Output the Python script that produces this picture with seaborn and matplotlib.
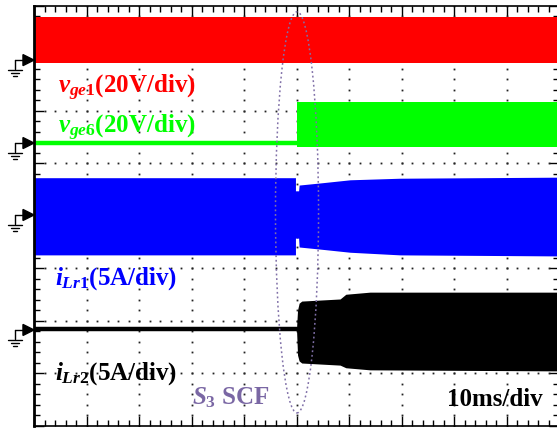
import numpy as np
import pandas as pd
import seaborn as sns
import matplotlib.pyplot as plt
from matplotlib.patches import Ellipse, Polygon

# all values in scope divisions: x 0..10 (10ms/div), y -4..4
# vge1 (red) - switching band over the whole record
red_x = [0.0, 10.0]
red_top = [3.78, 3.78]
red_bot = [2.90, 2.90]

# vge6 (green) - off before the fault, switching after
green_flat_x = [0.0, 5.01]
green_flat_y = [1.38, 1.38]
green_x = [5.01, 10.0]
green_top = [2.16, 2.16]
green_bot = [1.30, 1.30]

# iLr1 (blue) envelope
blue_x = [0.0, 4.98, 4.98, 5.04, 5.05, 5.45, 6.02, 6.97, 10.0]
blue_top = [0.72, 0.72, 0.47, 0.47, 0.58, 0.62, 0.68, 0.71, 0.73]
blue_bot = [-0.75, -0.75, -0.43, -0.43, -0.60, -0.64, -0.70, -0.75, -0.77]

# iLr2 (black) - zero before the fault, growing after
black_flat_x = [0.0, 5.0]
black_flat_y = [-2.16, -2.16]
black_x = [5.0, 5.02, 5.05, 5.10, 5.83, 5.94, 6.40, 10.0]
black_top = [-2.16, -1.80, -1.67, -1.63, -1.59, -1.50, -1.46, -1.46]
black_bot = [-2.16, -2.66, -2.77, -2.81, -2.85, -2.90, -2.94, -2.96]

ground_levels = [2.96, 1.38, 0.01, -2.18]

sns.set_style("white")
plt.rcParams['font.family'] = ['Liberation Serif', 'DejaVu Serif']
plt.rcParams['mathtext.fontset'] = 'custom'
plt.rcParams['mathtext.rm'] = 'Liberation Serif:bold'
plt.rcParams['mathtext.it'] = 'Liberation Serif:italic:bold'
plt.rcParams['mathtext.bf'] = 'Liberation Serif:bold'

fig = plt.figure(figsize=(5.57, 4.30), dpi=100)
ax = fig.add_axes([34/557, 4.5/430, 525/557, 420/430])
ax.set_xlim(0, 10)
ax.set_ylim(-4, 4)

# scope graticule dots
for gx in range(1, 10):
    ys = np.arange(-4, 4.001, 0.2)
    ax.plot([gx]*len(ys), ys, ls='none', marker='s', ms=1.3, mew=0, color='#222222', zorder=1)
for gy in range(-3, 4):
    xs = np.arange(0, 10.001, 0.2)
    ax.plot(xs, [gy]*len(xs), ls='none', marker='s', ms=1.3, mew=0, color='#222222', zorder=1)

# traces
ax.fill_between(red_x, red_bot, red_top, color='#ff0000', lw=0, zorder=2)
ax.fill_between(green_x, green_bot, green_top, color='#00ff00', lw=0, zorder=2)
ax.fill_between(blue_x, blue_bot, blue_top, color='#0000ff', lw=0, zorder=2)
ax.fill_between(black_x, black_bot, black_top, color='#000000', lw=0, zorder=2)

flat = pd.DataFrame({
    'x': green_flat_x + black_flat_x,
    'y': green_flat_y + black_flat_y,
    'ch': ['g', 'g', 'k', 'k'],
})
sns.lineplot(data=flat, x='x', y='y', hue='ch', palette={'g': '#00ff00', 'k': '#000000'},
             lw=3.2, legend=False, ax=ax, zorder=2)

# dotted ellipse marking the fault instant
ax.add_patch(Ellipse((5.01, 0.06), 0.82, 7.64, fill=False, ls=(0, (1.2, 1.8)),
                     lw=1.1, ec='#8070a8', zorder=4))

# ground markers on the left
for g in ground_levels:
    ax.add_patch(Polygon([[-0.21, g + 0.105], [-0.21, g - 0.105], [0.0, g]], closed=True,
                         fc='black', ec='black', clip_on=False, zorder=5))
    ax.plot([-0.36, -0.21], [g, g], color='black', lw=1, clip_on=False)
    ax.plot([-0.36, -0.36], [g, g - 0.17], color='black', lw=1, clip_on=False)
    for k, hw in enumerate([0.13, 0.08, 0.04]):
        yy = g - 0.19 - 0.06 * k
        ax.plot([-0.36 - hw, -0.36 + hw], [yy, yy], color='black', lw=1, clip_on=False)

fs = 18
ax.text(0.457, 2.33, r'$v_{ge1}$(20V/div)', color='#ff0000', fontsize=fs, fontweight='bold', zorder=6)
ax.text(0.457, 1.57, r'$v_{ge6}$(20V/div)', color='#00ff00', fontsize=fs, fontweight='bold', zorder=6)
ax.text(0.40, -1.32, r'$i_{Lr1}$(5A/div)', color='#0000ff', fontsize=fs, fontweight='bold', zorder=6)
ax.text(0.40, -3.13, r'$i_{Lr2}$(5A/div)', color='#000000', fontsize=fs, fontweight='bold', zorder=6)
ax.text(3.01, -3.59, r'$S_3$ SCF', color='#7a67a4', fontsize=fs, fontweight='bold', zorder=6)
ax.text(9.68, -3.63, '10ms/div', color='black', fontsize=fs, fontweight='bold', ha='right', zorder=6)

ax.set_xticks(np.arange(0, 11, 1))
ax.set_yticks(np.arange(-4, 5, 1))
ax.set_xticks(np.arange(0, 10.01, 0.2), minor=True)
ax.set_yticks(np.arange(-4, 4.01, 0.2), minor=True)
ax.tick_params(which='both', direction='in', top=True, right=True, bottom=True, left=True,
               labelbottom=False, labelleft=False, color='black', width=1)
ax.tick_params(which='major', length=7)
ax.tick_params(which='minor', length=4)
ax.set_xlabel('')
ax.set_ylabel('')
for sp in ax.spines.values():
    sp.set_color('black')
    sp.set_linewidth(1.2)
ax.spines['left'].set_linewidth(2)

fig.savefig('out.png', dpi=100)
